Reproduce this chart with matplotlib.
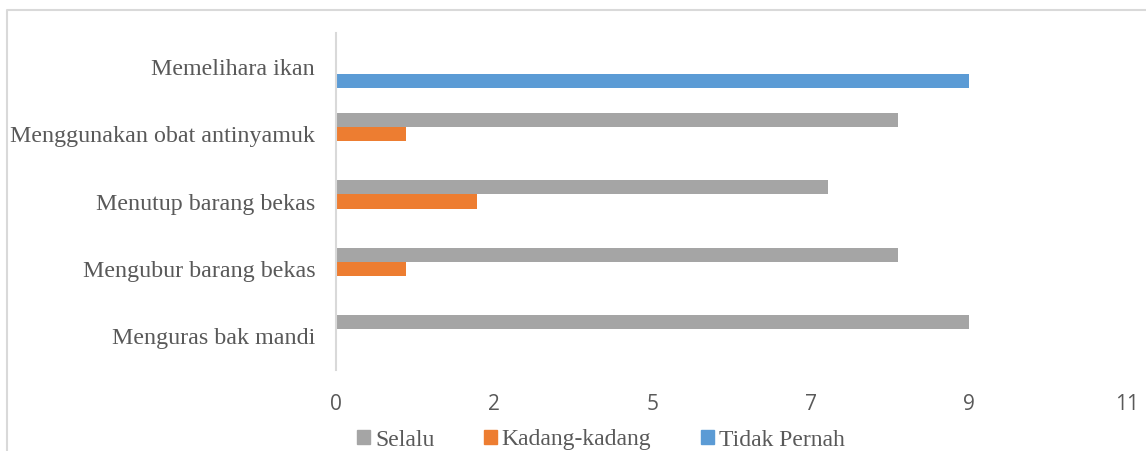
import numpy as np
import matplotlib
matplotlib.use('Agg')
import matplotlib.pyplot as plt
from matplotlib.lines import Line2D
from matplotlib.patches import Patch

# data (bottom to top, as drawn)
categories = ['Menguras bak mandi', 'Mengubur barang bekas', 'Menutup barang bekas',
              'Menggunakan obat antinyamuk', 'Memelihara ikan']
selalu = [9, 8, 7, 8, 0]
kadang = [0, 1, 2, 1, 0]
tidak_pernah = [0, 0, 0, 0, 9]
series_names = ['Selalu', 'Kadang-kadang', 'Tidak Pernah']
x_ticks = [0, 2.25, 4.5, 6.75, 9, 11.25]
x_ticklabels = ['0', '2', '5', '7', '9', '11']

c_gray = '#A5A5A5'
c_orange = '#ED7D31'
c_blue = '#5B9BD5'
txt = '#595959'

fig = plt.figure(figsize=(11.46, 4.51), dpi=100)
ax = fig.add_axes([336/1146, 1 - 370/451, 791/1146, 337/451])

y = np.arange(len(categories))
h = 0.208
ax.barh(y + h, selalu, height=h, color=c_gray)
ax.barh(y, kadang, height=h, color=c_orange)
ax.barh(y - h, tidak_pernah, height=h, color=c_blue)

ax.set_xlim(0, 11.25)
ax.set_ylim(-0.5, len(categories) - 0.5)
ax.set_yticks(y)
ax.set_yticklabels(categories, family='Liberation Serif', fontsize=17.3, color=txt)
ax.set_xticks(x_ticks)
ax.set_xticklabels(x_ticklabels, family='Open Sans', fontsize=15, color=txt)
ax.tick_params(axis='y', length=0, pad=15)
ax.tick_params(axis='x', length=0, pad=17)
for s in ['top', 'right', 'bottom']:
    ax.spines[s].set_visible(False)
ax.spines['left'].set_color('#D9D9D9')
ax.spines['left'].set_linewidth(1.5)

# chart border: only left and top edges are inside the image
left, top = 7/1146, 1 - 10/451
fig.lines.append(Line2D([left, left, 1.0], [0.0, top, top], transform=fig.transFigure,
                        color='#D9D9D9', linewidth=1.5))

handles = [Patch(color=c) for c in (c_gray, c_orange, c_blue)]
fig.legend(handles, series_names, loc='center', bbox_to_anchor=(601/1146, 1 - 440/451),
           ncol=3, frameon=False, prop={'family': 'Liberation Serif', 'size': 17},
           labelcolor=txt, handlelength=0.55, handleheight=0.55, handletextpad=0.2,
           columnspacing=2.1, borderpad=0, borderaxespad=0)

fig.savefig('out.png', dpi=100)
